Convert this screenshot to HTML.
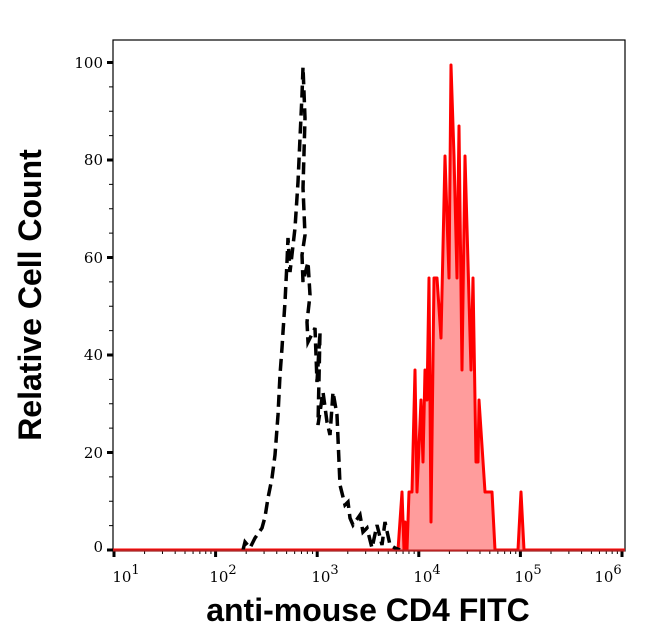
<!DOCTYPE html>
<html><head><style>
html,body{margin:0;padding:0;background:#fff;width:646px;height:641px;overflow:hidden}
svg{display:block}
.t{font-family:"DejaVu Serif","Liberation Serif",serif;font-size:15px;fill:#000}
.L{font-family:"Liberation Sans",sans-serif;font-weight:bold;font-size:32px;fill:#000}
</style></head><body>
<svg width="646" height="641" viewBox="0 0 646 641">
<rect x="113" y="40" width="512" height="511" fill="none" stroke="#000" stroke-width="1.2"/>
<g stroke="#000" stroke-width="1">
<path d="M107 550H113M107 452.5H113M107 355H113M107 257.5H113M107 160H113M107 62.5H113" stroke-width="3"/>
<path d="M109 525.6H113M109 501.2H113M109 476.9H113M109 428.1H113M109 403.8H113M109 379.4H113M109 330.6H113M109 306.2H113M109 281.9H113M109 233.1H113M109 208.8H113M109 184.4H113M109 135.6H113M109 111.2H113M109 86.9H113"/>
</g>
<g class="t" text-anchor="end">
<text x="103" y="552">0</text><text x="103" y="458">20</text><text x="103" y="360">40</text>
<text x="103" y="263">60</text><text x="103" y="165">80</text><text x="103" y="68">100</text>
</g>
<g stroke="#000" stroke-width="1" id="xt"></g>
<g class="t" text-anchor="middle" font-size="17">
<text x="126" y="582">10<tspan dy="-8" font-size="13">1</tspan></text>
<text x="223" y="582">10<tspan dy="-8" font-size="13">2</tspan></text>
<text x="325" y="582">10<tspan dy="-8" font-size="13">3</tspan></text>
<text x="427" y="582">10<tspan dy="-8" font-size="13">4</tspan></text>
<text x="528" y="582">10<tspan dy="-8" font-size="13">5</tspan></text>
<text x="608" y="582">10<tspan dy="-8" font-size="13">6</tspan></text>
</g>
<path fill="#ff9c9c" stroke="#ff0000" stroke-width="3" stroke-linejoin="round" d="M113 550L398 550L402 492L404 550L405 522L407 550L409 492L412 492L415 370L417 492L421 400L423 462L425 370L427 400L429 278L431 522L434 278L437 278L441 338L445 156L449 278L451 65L454 156L457 278L459 126L462 370L465 156L471 370L473 278L476 462L478 462L479 400L485 492L492 492L495 550L518 550L521 492L524 550L625 550"/>
<path fill="none" stroke="#000" stroke-width="3.5" stroke-dasharray="12 6" d="M243 550L245 542L250 548L255 538L262 528L265 517L268 498L272 478L275 455L278 415L280 375L282 348L283 332L285 302L287 262L288 238L290 272L295 228L298 182L300 138L302 95L303 67L305 118L303 188L305 235L302 255L303 282L308 262L310 295L307 322L308 342L315 328L317 382L320 332L318 425L323 392L327 422L330 435L333 392L337 415L340 485L345 505L348 502L350 518L353 525L360 515L363 532L367 528L372 548L377 525L382 545L385 522L390 545L395 548L400 550"/>
<line x1="113" y1="550.5" x2="625" y2="550.5" stroke="#b22" stroke-width="2"/>
<text class="L" x="368" y="621" text-anchor="middle">anti-mouse CD4 FITC</text>
<text class="L" transform="translate(41,295) rotate(-90)" text-anchor="middle">Relative Cell Count</text>
</svg>
<script>
(function(){var g=document.getElementById('xt'),s='';
for(var d=1;d<6;d++){var x0=114+(d-1)*101.6;
for(var k=1;k<10;k++){var x=x0+Math.log10(k)*101.6;var len=k==1?6:3;
s+='<line x1="'+x+'" y1="551" x2="'+x+'" y2="'+(551+len)+'" stroke-width="'+(k==1?3:1)+'"/>';}}
s+='<line x1="622" y1="551" x2="622" y2="557" stroke-width="3"/>';
g.innerHTML=s;})();
</script>
</body></html>
